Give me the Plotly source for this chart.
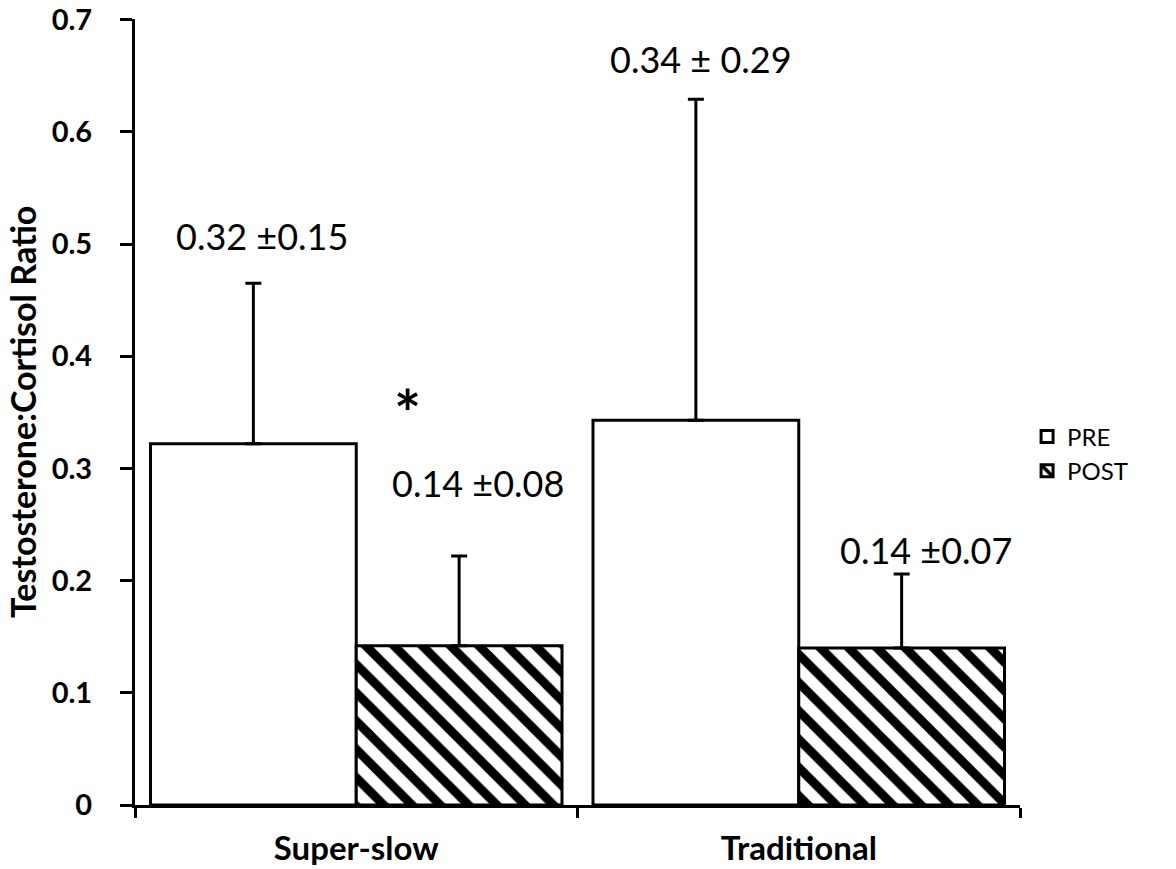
import plotly.graph_objects as go

categories = ["Super-slow", "Traditional"]
pre_values = [0.322, 0.343]
pre_err = [0.143, 0.286]
post_values = [0.142, 0.140]
post_err = [0.080, 0.066]

tick_vals = [0, 0.1, 0.2, 0.3, 0.4, 0.5, 0.6, 0.7]
tick_text = ["0", "0.1", "0.2", "0.3", "0.4", "0.5", "0.6", "0.7"]

labels = ["0.32 ±0.15", "0.14 ±0.08", "0.34 ± 0.29", "0.14 ±0.07"]
label_x = [-0.213, 0.276, 0.778, 1.287]
label_y = [0.507, 0.287, 0.665, 0.227]
star_x, star_y = 0.115, 0.35

FONT = "Lato"

fig = go.Figure()
fig.add_trace(go.Bar(
    name="PRE", x=categories, y=pre_values,
    marker=dict(color="white", line=dict(color="black", width=3)),
    error_y=dict(type="data", array=pre_err, arrayminus=[0, 0], symmetric=False,
                 color="black", thickness=3, width=8),
))
fig.add_trace(go.Bar(
    name="POST", x=categories, y=post_values,
    marker=dict(color="white", line=dict(color="black", width=3),
                pattern=dict(shape="\\", fgcolor="black", bgcolor="white",
                             size=20, solidity=0.45, fillmode="replace")),
    error_y=dict(type="data", array=post_err, arrayminus=[0, 0], symmetric=False,
                 color="black", thickness=3, width=8),
))

for t, xx, yy in zip(labels, label_x, label_y):
    fig.add_annotation(x=xx, y=yy, xref="x", yref="y", text=t, showarrow=False,
                       xanchor="center", yanchor="middle",
                       font=dict(family=FONT, size=36, color="black"))
fig.add_annotation(x=star_x, y=star_y, xref="x", yref="y", text="<b>*</b>", showarrow=False,
                   xanchor="center", yanchor="middle",
                   font=dict(family=FONT, size=64, color="black"))
fig.add_annotation(x=-0.1277, y=0.5, xref="paper", yref="paper",
                   xanchor="center", yanchor="middle",
                   text="<b>Testosterone:Cortisol Ratio</b>", textangle=-90, showarrow=False,
                   font=dict(family=FONT, size=34, color="black"))

fig.update_layout(
    width=1176, height=869,
    margin=dict(l=135, r=156, t=19, b=64, autoexpand=False),
    paper_bgcolor="white", plot_bgcolor="white",
    barmode="group", bargap=0.07, bargroupgap=0,
    font=dict(family=FONT, color="black"),
    legend=dict(x=1.008, y=0.4466, xanchor="left", yanchor="middle",
                font=dict(family=FONT, size=24, color="black"),
                itemwidth=30, tracegroupgap=2),
    showlegend=True,
)
fig.update_yaxes(range=[0, 0.7006], tickvals=tick_vals, ticktext=tick_text,
                 showgrid=False, zeroline=False, automargin=False,
                 showline=True, linecolor="black", linewidth=3,
                 ticks="outside", ticklen=12, tickwidth=3, tickcolor="black",
                 ticklabelstandoff=22, ticklabeloverflow="allow",
                 tickfont=dict(family=FONT, size=29, color="black", weight="bold"))
fig.update_xaxes(showgrid=False, showline=True, linecolor="black", linewidth=3,
                 automargin=False, ticklabeloverflow="allow",
                 ticks="outside", tickson="boundaries", ticklen=10, tickwidth=3,
                 tickcolor="black", ticklabelstandoff=12,
                 tickfont=dict(family=FONT, size=33, color="black", weight="bold"))

fig.write_html("out.html")
